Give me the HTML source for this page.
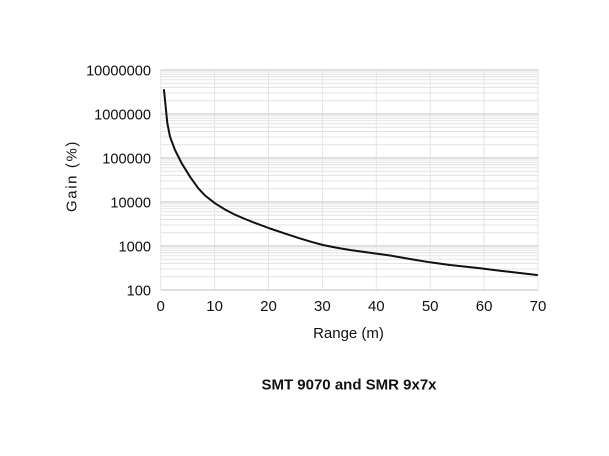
<!DOCTYPE html>
<html>
<head>
<meta charset="utf-8">
<style>
html,body{margin:0;padding:0;background:#fff;}
svg{display:block;}
text{font-family:"Liberation Sans",Arial,sans-serif;fill:#111;}
</style>
</head>
<body>
<svg width="609" height="456" viewBox="0 0 609 456" xmlns="http://www.w3.org/2000/svg">
<rect width="609" height="456" fill="#fff"/>
<g stroke="#e4e4e4" stroke-width="1" fill="none">
<path d="
M160.7 276.75H538 M160.7 269H538 M160.7 263.5H538 M160.7 259.25H538 M160.7 255.75H538 M160.7 252.8H538 M160.7 250.25H538 M160.7 248H538
M160.7 232.75H538 M160.7 225H538 M160.7 219.5H538 M160.7 215.25H538 M160.7 211.75H538 M160.7 208.8H538 M160.7 206.25H538 M160.7 204H538
M160.7 188.75H538 M160.7 181H538 M160.7 175.5H538 M160.7 171.25H538 M160.7 167.75H538 M160.7 164.8H538 M160.7 162.25H538 M160.7 160H538
M160.7 144.75H538 M160.7 137H538 M160.7 131.5H538 M160.7 127.25H538 M160.7 123.75H538 M160.7 120.8H538 M160.7 118.25H538 M160.7 116H538
M160.7 100.75H538 M160.7 93H538 M160.7 87.5H538 M160.7 83.25H538 M160.7 79.75H538 M160.7 76.8H538 M160.7 74.25H538 M160.7 72H538
"/>
<path d="M160.7 70V290 M214.6 70V290 M268.5 70V290 M322.4 70V290 M376.3 70V290 M430.2 70V290 M484.1 70V290 M538 70V290"/>
</g>
<g stroke="#d6d6d6" stroke-width="1.5" fill="none">
<path d="M160.7 70H538 M160.7 114H538 M160.7 158H538 M160.7 202H538 M160.7 246H538 M160.7 290H538"/>
</g>
<polyline fill="none" stroke="#111" stroke-width="2" stroke-linejoin="round" stroke-linecap="round"
points="164,90 165,100 166,110 167.3,123 170,136.7 175,150 181.7,163.3 190,176.7 198.3,188.3 205,195.5 215,203.3 225,209.5 235,214.7 245,219 255,222.9 270,228.5 285,233.6 300,238.4 313,242.3 323,245 336,247.6 350,250 370,252.8 390,255.5 410,259 430,262.3 450,265 480,268.3 500,270.7 537,275"/>
<g font-size="14.6" text-anchor="end">
<text x="151" y="75.3">10000000</text>
<text x="151" y="119.3">1000000</text>
<text x="151" y="163.3">100000</text>
<text x="151" y="207.3">10000</text>
<text x="151" y="251.3">1000</text>
<text x="151" y="295.3">100</text>
</g>
<g font-size="15" text-anchor="middle">
<text x="160.7" y="311">0</text>
<text x="214.6" y="311">10</text>
<text x="268.5" y="311">20</text>
<text x="322.4" y="311">30</text>
<text x="376.3" y="311">40</text>
<text x="430.2" y="311">50</text>
<text x="484.1" y="311">60</text>
<text x="538" y="311">70</text>
</g>
<text x="348.5" y="338" font-size="15" text-anchor="middle">Range (m)</text>
<text transform="translate(76.5,176) rotate(-90)" font-size="15" text-anchor="middle" letter-spacing="1.6">Gain (%)</text>
<text x="349" y="389.3" font-size="15" font-weight="bold" text-anchor="middle">SMT 9070 and SMR 9x7x</text>
</svg>
</body>
</html>
